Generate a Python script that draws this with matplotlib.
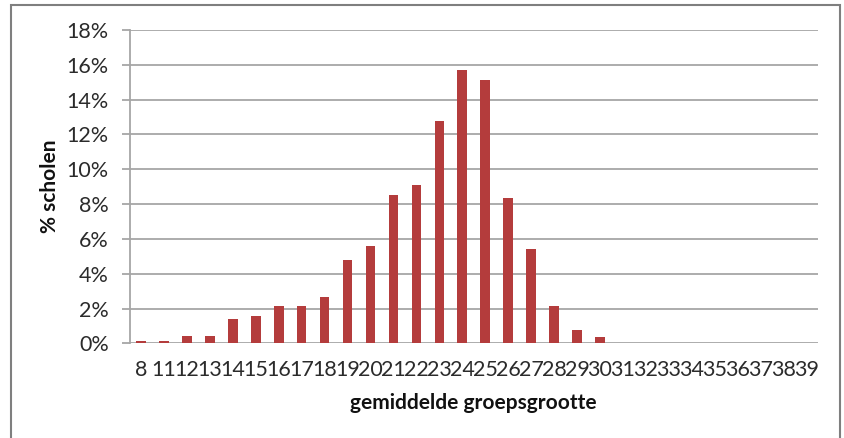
import matplotlib
matplotlib.use('Agg')
import matplotlib.pyplot as plt
from matplotlib.patches import Rectangle
from matplotlib.ticker import FuncFormatter

plt.rcParams['font.family'] = ['Lato', 'DejaVu Sans']

# gemiddelde groepsgrootte -> % scholen
groepen = [8] + list(range(11, 40))
pct = [0.15, 0.15, 0.42, 0.42, 1.38, 1.55, 2.14, 2.14, 2.68, 4.8,
       5.59, 8.52, 9.11, 12.79, 15.71, 15.13, 8.37, 5.41, 2.14, 0.76,
       0.40, 0, 0, 0, 0, 0, 0, 0, 0, 0]
yticks = list(range(0, 19, 2))

BAR = '#B43C3C'
GRID = '#A6A6A6'
TXT = '#2B2B2B'

fig = plt.figure(figsize=(8.45, 4.38), dpi=100)
ax = fig.add_axes([0.1533, 0.2158, 0.968 - 0.1533, 0.9315 - 0.2158])

x = list(range(len(groepen)))
ax.bar(x, pct, width=0.42, color=BAR, zorder=3)

ax.set_xlim(-0.5, len(groepen) - 0.5)
ax.set_ylim(0, 18)
ax.set_yticks(yticks)
ax.yaxis.set_major_formatter(FuncFormatter(lambda v, p: f'{v:.0f}%'))
ax.set_xticks(x)
ax.set_xticklabels([str(g) for g in groepen])

ax.grid(axis='y', color=GRID, linewidth=1.3, zorder=0)
for s in ['top', 'right', 'bottom']:
    ax.spines[s].set_visible(False)
ax.spines['left'].set_color(GRID)
ax.spines['left'].set_linewidth(1.3)

ax.tick_params(axis='y', length=6, width=1.3, color=GRID, labelsize=15.5,
               labelcolor=TXT, pad=9)
ax.tick_params(axis='x', length=0, labelsize=15.5, labelcolor=TXT, pad=12)

ax.set_xlabel('gemiddelde groepsgrootte', fontsize=15, fontweight='bold',
              color='#111111', labelpad=9)
ax.set_ylabel('% scholen', fontsize=15, fontweight='bold', color='#111111',
              labelpad=5)

# outer frame like the spreadsheet chart area
fig.patches.append(Rectangle((11 / 845, -0.01), (840 - 11) / 845, 1 - 5 / 438 + 0.01,
                             transform=fig.transFigure, fill=False,
                             edgecolor='#7F7F7F', linewidth=1.5))

fig.savefig('out.png', dpi=100)
